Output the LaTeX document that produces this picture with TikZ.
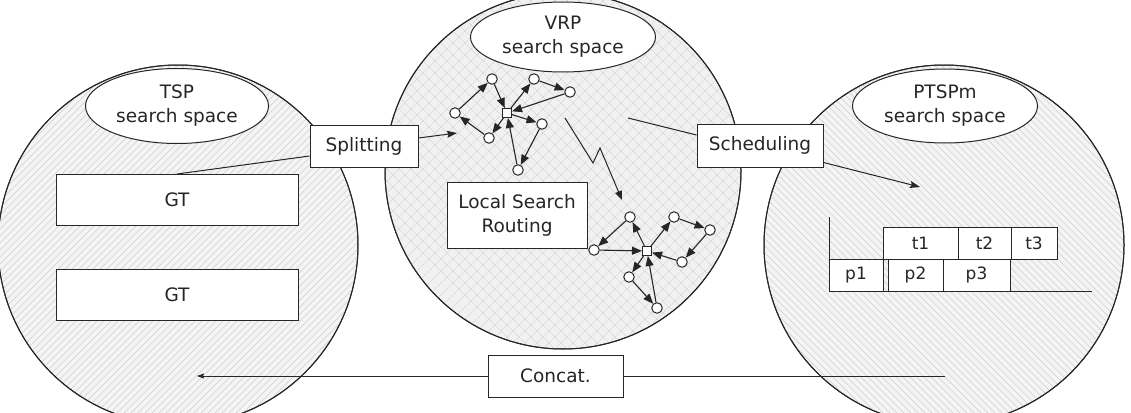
\documentclass[tikz,border=0pt]{standalone}
\usepackage{fontspec}
\setmainfont{DejaVu Sans}
\usetikzlibrary{shapes.geometric,arrows.meta}
\begin{document}
\begin{tikzpicture}[x=1pt,y=-1pt,
  every node/.style={font=\fontsize{18.5}{24}\selectfont, text=black!85},
  bigc/.style={circle, draw=black!85, line width=1pt, inner sep=0pt, minimum size=360pt},
  hl/.style={draw=gray!38, line width=0.55pt},
  hm/.style={draw=gray!30, line width=0.6pt},
  outl/.style={draw=black!85, line width=1pt},
  ell/.style={ellipse, draw=black!85, line width=1pt, fill=white, inner sep=0pt, align=center},
  box/.style={rectangle, draw=black!85, line width=1pt, fill=white, inner sep=0pt, align=center},
  gbox/.style={box, minimum height=32pt, font=\fontsize{17}{20}\selectfont},
  gn/.style={circle, draw=black!85, line width=1pt, fill=white, inner sep=0pt, minimum size=10.5pt},
  dep/.style={rectangle, draw=black!85, line width=1pt, fill=white, inner sep=0pt, minimum size=9pt},
  ge/.style={draw=black!85, line width=1.1pt, -{Triangle[length=10pt,width=8pt]}},
  conn/.style={draw=black!85, line width=1pt},
  carr/.style={conn, -{Stealth[length=10pt,width=7pt,inset=1.5pt]}}
]
\useasboundingbox (0,0) rectangle (1131,412);
\clip (0,0) rectangle (1131,412);

% search-space circles
\node[bigc, fill=gray!9] (tspC) at (178,245) {};
\node[bigc, fill=gray!11, minimum size=356pt] (vrpC) at (563,171) {};
\node[bigc, fill=gray!9] (ptspC) at (944,245) {};

% hatching
\begin{scope}
  \clip (tspC.center) circle[radius=179.5];
  \foreach \i in {0,7,...,840} { \draw[hl] (\i,40) -- ++(-460,460); }
\end{scope}
\begin{scope}
  \clip (ptspC.center) circle[radius=179.5];
  \foreach \i in {300,307,...,1140} { \draw[hl] (\i,40) -- ++(460,460); }
\end{scope}
\begin{scope}
  \clip (vrpC.center) circle[radius=177.5];
  \foreach \i in {0,12,...,1000} { \draw[hm] (\i,-20) -- ++(-400,400); }
  \foreach \i in {150,162,...,1150} { \draw[hm] (\i,-20) -- ++(400,400); }
\end{scope}
\draw[outl] (tspC.center) circle[radius=180];
\draw[outl] (vrpC.center) circle[radius=178];
\draw[outl] (ptspC.center) circle[radius=180];

% ellipses
\node[ell, minimum width=183pt, minimum height=75pt] (tspE) at (177,106) {TSP\\search space};
\node[ell, minimum width=185pt, minimum height=70pt] (vrpE) at (563,37) {VRP\\search space};
\node[ell, minimum width=185pt, minimum height=74pt] (ptspE) at (945,106) {PTSPm\\search space};

% boxes
\node[box, minimum width=108pt, minimum height=42pt] (split) at (364,146) {Splitting};
\node[box, minimum width=242pt, minimum height=51pt] (gt1) at (177,200) {GT};
\node[box, minimum width=242pt, minimum height=51pt] (gt2) at (177,294.5) {GT};
\node[box, minimum width=140pt, minimum height=66pt] (ls) at (517,215) {Local Search\\Routing};
\node[box, minimum width=126pt, minimum height=43pt] (sched) at (760,145.5) {Scheduling};
\node[box, minimum width=135pt, minimum height=42pt] (concat) at (555.5,376) {Concat.};

% free ends
\coordinate (sp1) at (457,133);
\coordinate (sc0) at (628,118);
\coordinate (sc1) at (920,187);
\coordinate (cc0) at (945,376);
\coordinate (cc1) at (197,376);
\coordinate (lz0) at (565,118);
\coordinate (lz1) at (593,163);
\coordinate (lz2) at (600,148);
\coordinate (lz3) at (622,200);

% connectors
\draw[conn] ([yshift=-10pt]split.west) -- (gt1.north);
\draw[carr] ([yshift=8pt]split.east) -- (sp1);
\draw[conn] (sc0) -- ([yshift=10.5pt]sched.west);
\draw[carr] ([yshift=-17pt]sched.east) -- (sc1);
\draw[conn] (cc0) -- (concat.east);
\draw[conn, -{Stealth[length=7pt,width=5pt,inset=1pt]}] (concat.west) -- (cc1);
\draw[conn, -{Triangle[length=9pt,width=7pt]}] (lz0) -- (lz1) -- (lz2) -- (lz3);

% graph 1
\node[dep] (s1) at (507,113) {};
\node[gn] (a1) at (492,79) {};
\node[gn] (b1) at (534,79) {};
\node[gn] (c1) at (570,92) {};
\node[gn] (d1) at (455,113) {};
\node[gn] (e1) at (489,138) {};
\node[gn] (f1) at (542,124) {};
\node[gn] (g1) at (518,170) {};
\path[ge] (d1) -- (a1);
\path[ge] (a1) -- (s1);
\path[ge] (s1) -- (b1);
\path[ge] (b1) -- (c1);
\path[ge] (c1) -- (s1);
\path[ge] (s1) -- (f1);
\path[ge] (f1) -- (g1);
\path[ge] (g1) -- (s1);
\path[ge] (s1) -- (e1);
\path[ge] (e1) -- (d1);

% graph 2
\node[dep] (s2) at (647,251) {};
\node[gn] (a2) at (630,217) {};
\node[gn] (b2) at (674,217) {};
\node[gn] (c2) at (710,230) {};
\node[gn] (d2) at (594,250) {};
\node[gn] (f2) at (682,262) {};
\node[gn] (e2) at (629,277) {};
\node[gn] (g2) at (657,308) {};
\path[ge] (s2) -- (a2);
\path[ge] (a2) -- (d2);
\path[ge] (d2) -- (s2);
\path[ge] (s2) -- (b2);
\path[ge] (b2) -- (c2);
\path[ge] (c2) -- (f2);
\path[ge] (f2) -- (s2);
\path[ge] (s2) -- (e2);
\path[ge] (e2) -- (g2);
\path[ge] (g2) -- (s2);

% Gantt chart
\coordinate (ax0) at (829,217);
\coordinate (ax1) at (829,291);
\coordinate (ax2) at (1092,291);
\draw[conn] (ax0) -- (ax1) -- (ax2);
\node[gbox, minimum width=54pt] (p1) at (856,275) {p1};
\node[gbox, minimum width=55pt] (p2) at (915.5,275) {p2};
\node[gbox, minimum width=67pt] (p3) at (976.5,275) {p3};
\node[gbox, minimum width=75pt] (t1) at (920.5,243) {t1};
\node[gbox, minimum width=53pt] (t2) at (984.5,243) {t2};
\node[gbox, minimum width=46pt] (t3) at (1034,243) {t3};
\end{tikzpicture}
\end{document}
